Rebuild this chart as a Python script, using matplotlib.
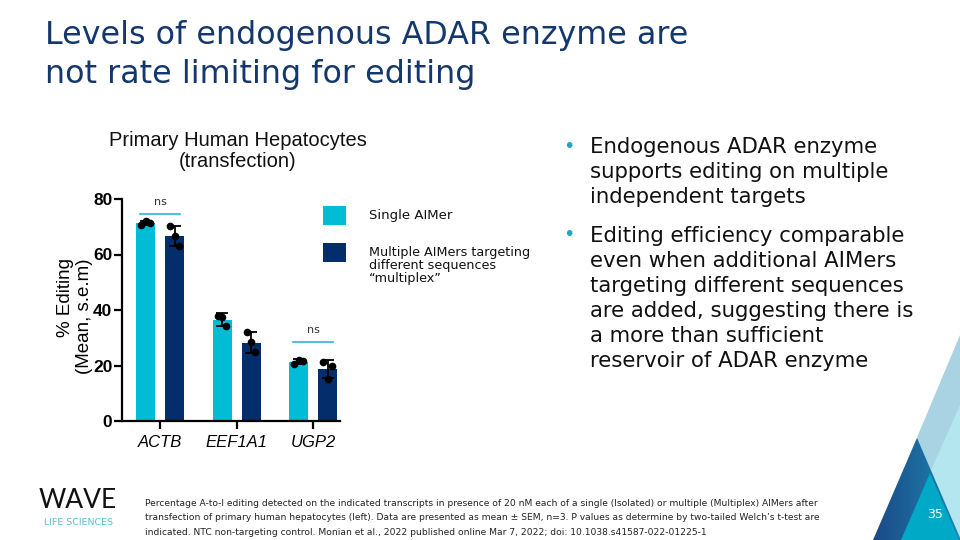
import matplotlib
matplotlib.use("Agg")
import matplotlib.pyplot as plt
from matplotlib.patches import Polygon, Rectangle
from matplotlib.colors import LinearSegmentedColormap
import numpy as np

# ---------------- data ----------------
categories = ["ACTB", "EEF1A1", "UGP2"]
single_mean = [71.3, 36.5, 21.4]
single_err = [0.8, 2.3, 1.0]
multi_mean = [66.7, 28.2, 18.8]
multi_err = [3.5, 3.8, 3.3]
single_points = [[70.6, 72.2, 71.5], [38.0, 37.4, 34.2], [20.4, 22.0, 21.8]]
multi_points = [[70.2, 66.7, 63.2], [31.9, 28.4, 24.7], [21.2, 15.2, 20.0]]
sig_groups = [0, 2]
sig_labels = ["ns", "ns"]
sig_heights = [74.6, 28.4]
yticks = [0, 20, 40, 60, 80]

title_lines = ["Levels of endogenous ADAR enzyme are", "not rate limiting for editing"]
chart_title = "Primary Human Hepatocytes\n(transfection)"
ylabel = "% Editing\n(Mean, s.e.m)"
legend_labels = ["Single AIMer", "Multiple AIMers targeting\ndifferent sequences\n\u201cmultiplex\u201d"]
bullets = [
    ["Endogenous ADAR enzyme", "supports editing on multiple", "independent targets"],
    ["Editing efficiency comparable", "even when additional AIMers",
     "targeting different sequences", "are added, suggesting there is",
     "a more than sufficient", "reservoir of ADAR enzyme"],
]
footer_lines = [
    "Percentage A-to-I editing detected on the indicated transcripts in presence of 20 nM each of a single (Isolated) or multiple (Multiplex) AIMers after",
    "transfection of primary human hepatocytes (left). Data are presented as mean \u00b1 SEM, n=3. P values as determine by two-tailed Welch\u2019s t-test are",
    "indicated. NTC non-targeting control. Monian et al., 2022 published online Mar 7, 2022; doi: 10.1038.s41587-022-01225-1",
]
logo_word = "WAVE"
logo_sub = "LIFE SCIENCES"
page_number = "35"

# ---------------- style ----------------
C_SINGLE = "#00bcd4"
C_MULTI = "#032d6b"
C_TITLE = "#14386e"
C_BULLET = "#1aa7c8"
ARIAL = "Liberation Sans"
VERD = "DejaVu Sans"

W, H = 960, 540
fig = plt.figure(figsize=(9.6, 5.4), dpi=100)
fig.patch.set_facecolor("white")


def fx(x):
    return x / W


def fy(y):
    return 1 - y / H


# decorative triangles (bottom right)
bg = fig.add_axes([0, 0, 1, 1], zorder=0)
bg.axis("off")
tri_specs = [
    ([(960, 335), (874, 540), (1046, 540)], "#a9d3e3", None),
    ([(960, 405), (900, 540), (1020, 540)], "#b3e6ef", None),
    ([(917, 438), (873, 540), (961, 540)], None, ("#1a4a86", "#1f86b4")),
    ([(930, 473), (901, 540), (959, 540)], "#00a9c6", None),
]
for k, (pts, col, grad) in enumerate(tri_specs):
    poly = Polygon(pts, closed=True, facecolor=col if col else "none",
                   edgecolor="none", zorder=k)
    bg.add_patch(poly)
    if grad is not None:
        cmap = LinearSegmentedColormap.from_list("g", list(grad))
        xs = [p[0] for p in pts]
        ys = [p[1] for p in pts]
        im = bg.imshow(np.linspace(0, 1, 64)[None, :], cmap=cmap, aspect="auto",
                       extent=(min(xs), max(xs), max(ys), min(ys)), zorder=k)
        im.set_clip_path(poly)
bg.set_xlim(0, W)
bg.set_ylim(H, 0)

# slide title
for i, line in enumerate(title_lines):
    fig.text(fx(45), fy(44 + 39 * i), line, fontsize=22.9, family=VERD,
             color=C_TITLE, ha="left", va="baseline")

# bullets
bullet_baselines = [[153, 178, 203], [242, 267, 292, 317, 342, 367]]
for lines, ys in zip(bullets, bullet_baselines):
    fig.text(fx(569), fy(ys[0] - 7), "\u2022", fontsize=14, family=VERD,
             color=C_BULLET, ha="center", va="center")
    for line, yb in zip(lines, ys):
        fig.text(fx(590), fy(yb), line, fontsize=15.3, family=VERD,
                 color="#111111", ha="left", va="baseline")

# footer
for i, line in enumerate(footer_lines):
    fig.text(fx(145), fy(506 + 14.5 * i), line, fontsize=6.55, family=VERD,
             color="#222222", ha="left", va="baseline")
fig.text(fx(935), fy(515), page_number, fontsize=9, family=VERD,
         color="white", ha="center", va="center")

# logo
fig.text(fx(78), fy(508), logo_word, fontsize=19, family="Lato",
         color="#111111", ha="center", va="baseline")
fig.text(fx(78), fy(525), logo_sub, fontsize=6.8, family=VERD,
         color="#5bbfd6", ha="center", va="baseline")

# ---------------- chart ----------------
ax = fig.add_axes([fx(122), fy(421), (340 - 122) / W, (421 - 199) / H], zorder=3)
x = np.arange(len(categories))
off, bw = 0.19, 0.25
ax.bar(x - off, single_mean, bw, color=C_SINGLE, zorder=2)
ax.bar(x + off, multi_mean, bw, color=C_MULTI, zorder=2)
ax.errorbar(x - off, single_mean, yerr=single_err, fmt="none", ecolor="black",
            elinewidth=1.3, capsize=4, capthick=1.3, zorder=3)
ax.errorbar(x + off, multi_mean, yerr=multi_err, fmt="none", ecolor="black",
            elinewidth=1.3, capsize=4, capthick=1.3, zorder=3)
jit = [-0.056, 0.0, 0.056]
for i in range(len(categories)):
    for j in range(3):
        ax.plot(x[i] - off + jit[j], single_points[i][j], "o", color="black",
                ms=4.5, zorder=4)
        ax.plot(x[i] + off + jit[j], multi_points[i][j], "o", color="black",
                ms=4.5, zorder=4)
for g, lab, h in zip(sig_groups, sig_labels, sig_heights):
    ax.plot([x[g] - off - 0.07, x[g] + off + 0.07], [h, h], color="#29b6d6",
            lw=1.2, zorder=3, clip_on=False)
    ax.text(x[g], h + 2.5, lab, ha="center", va="bottom", fontsize=8,
            family=VERD, color="#333333")

ax.set_xlim(-0.497, 2.35)
ax.set_ylim(0, 80)
ax.set_yticks(yticks)
ax.set_yticklabels([str(v) for v in yticks], fontsize=12.5, fontweight="bold",
                   family=ARIAL)
ax.set_xticks(x)
ax.set_xticklabels(categories, fontsize=12, style="italic", family=ARIAL)
for s in ["top", "right"]:
    ax.spines[s].set_visible(False)
for s in ["left", "bottom"]:
    ax.spines[s].set_linewidth(1.6)
ax.tick_params(axis="both", width=1.6, length=6, colors="black")
ax.tick_params(axis="y", pad=1)
ax.tick_params(axis="x", pad=4)
ax.set_facecolor("none")

fig.text(fx(238), fy(151), chart_title, fontsize=14.5, family=ARIAL,
         ha="center", va="center", linespacing=1.15, color="#111111")
fig.text(fx(75), fy(316), ylabel, fontsize=13.5, family=ARIAL, rotation=90,
         ha="center", va="center", multialignment="right", linespacing=1.2)

# legend
leg_y = [216, 252]
for col, yc in zip([C_SINGLE, C_MULTI], leg_y):
    fig.add_artist(Rectangle((fx(323), fy(yc + 9.5)), 23 / W, 19 / H,
                             transform=fig.transFigure, facecolor=col,
                             edgecolor="none"))
fig.text(fx(369), fy(216), legend_labels[0], fontsize=9.5, family=VERD,
         ha="left", va="center", color="#111111")
fig.text(fx(369), fy(246), legend_labels[1], fontsize=9.2, family=VERD,
         ha="left", va="top", color="#111111", linespacing=1.0)

fig.savefig("out.png", dpi=100)
